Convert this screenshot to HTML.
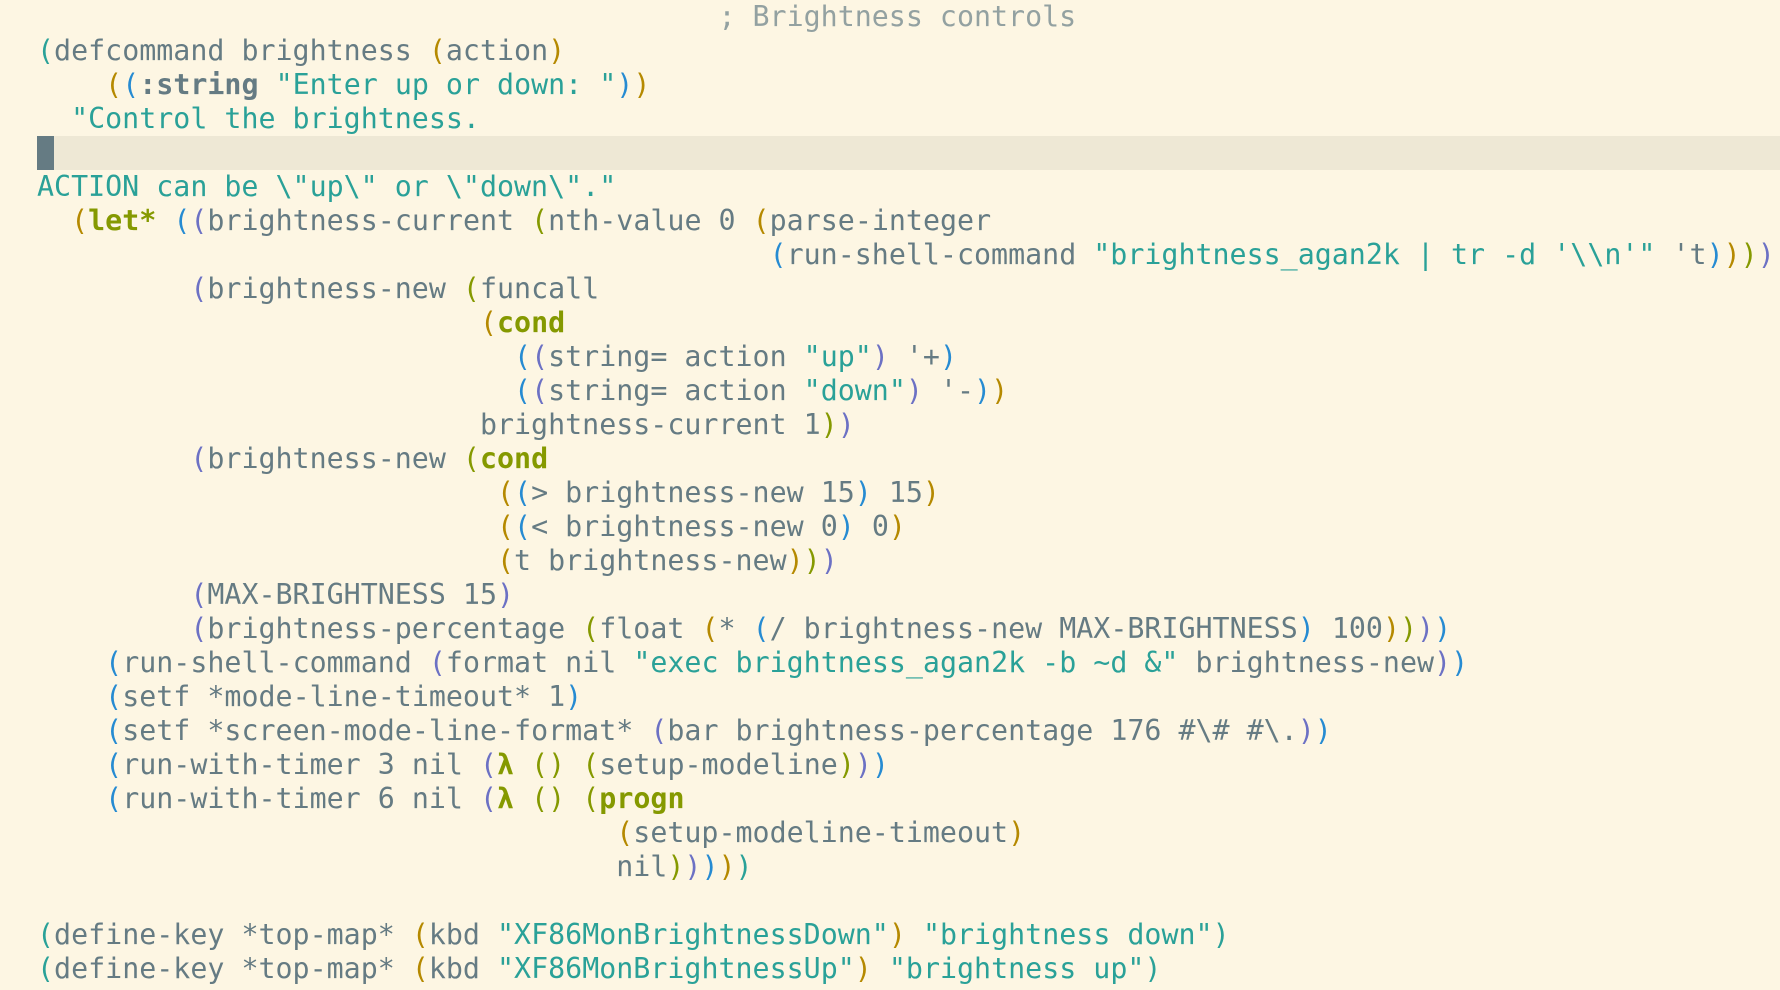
<!DOCTYPE html>
<html><head><meta charset="utf-8"><style>
html,body{margin:0;padding:0;background:#fdf6e3;width:1780px;height:990px;overflow:hidden}
#hl{position:absolute;left:37px;right:0;top:136px;height:34px;background:#eee8d5}
#cur{position:absolute;left:37px;top:136px;width:17px;height:34px;background:#657b83}
pre{position:absolute;left:37px;top:0;margin:0;font-family:"DejaVu Sans Mono","Liberation Mono",monospace;font-size:28.3px;line-height:34px;color:#657b83;white-space:pre}
.s{color:#2aa198}.k{color:#859900;font-weight:bold}.b{font-weight:bold}.c{color:#93a1a1}
</style></head><body>
<div id="hl"></div><div id="cur"></div>
<pre id="code"><span class="c">                                        ; Brightness controls</span>
(defcommand brightness (action)
    ((<span class="b">:string</span> <span class="s">"Enter up or down: "</span>))
  <span class="s">"Control the brightness.

ACTION can be \"up\" or \"down\"."</span>
  (<span class="k">let*</span> ((brightness-current (nth-value 0 (parse-integer
                                           (run-shell-command <span class="s">"brightness_agan2k | tr -d '\\n'"</span> 't))))
         (brightness-new (funcall
                          (<span class="k">cond</span>
                            ((string= action <span class="s">"up"</span>) '+)
                            ((string= action <span class="s">"down"</span>) '-))
                          brightness-current 1))
         (brightness-new (<span class="k">cond</span>
                           ((&gt; brightness-new 15) 15)
                           ((&lt; brightness-new 0) 0)
                           (t brightness-new)))
         (MAX-BRIGHTNESS 15)
         (brightness-percentage (float (* (/ brightness-new MAX-BRIGHTNESS) 100))))
    (run-shell-command (format nil <span class="s">"exec brightness_agan2k -b ~d &amp;"</span> brightness-new))
    (setf *mode-line-timeout* 1)
    (setf *screen-mode-line-format* (bar brightness-percentage 176 #\# #\.))
    (run-with-timer 3 nil (<span class="k">λ</span> () (setup-modeline)))
    (run-with-timer 6 nil (<span class="k">λ</span> () (<span class="k">progn</span>
                                  (setup-modeline-timeout)
                                  nil)))))

(define-key *top-map* (kbd <span class="s">"XF86MonBrightnessDown"</span>) <span class="s">"brightness down"</span>)
(define-key *top-map* (kbd <span class="s">"XF86MonBrightnessUp"</span>) <span class="s">"brightness up"</span>)</pre>
<script>
(function(){
var pal=['#b58900','#268bd2','#6c71c4','#859900'];
function col(d){return d<=1?'#2aa198':pal[(d-2)%4];}
var depth=0;
function walk(node){
  var kids=Array.prototype.slice.call(node.childNodes);
  kids.forEach(function(n){
    if(n.nodeType===3){
      var t=n.nodeValue; if(!/[()]/.test(t))return;
      var frag=document.createDocumentFragment(),buf='';
      for(var i=0;i<t.length;i++){
        var ch=t[i];
        if(ch==='('||ch===')'){
          if(buf){frag.appendChild(document.createTextNode(buf));buf='';}
          var sp=document.createElement('span');
          if(ch==='('){depth++;sp.style.color=col(depth);}else{sp.style.color=col(depth);depth--;}
          sp.style.fontWeight='normal';
          sp.textContent=ch;frag.appendChild(sp);
        }else buf+=ch;
      }
      if(buf)frag.appendChild(document.createTextNode(buf));
      n.parentNode.replaceChild(frag,n);
    }else if(n.nodeType===1&&!n.classList.contains('s')&&!n.classList.contains('c')){walk(n);}
  });
}
walk(document.getElementById('code'));
})();
</script>
</body></html>
